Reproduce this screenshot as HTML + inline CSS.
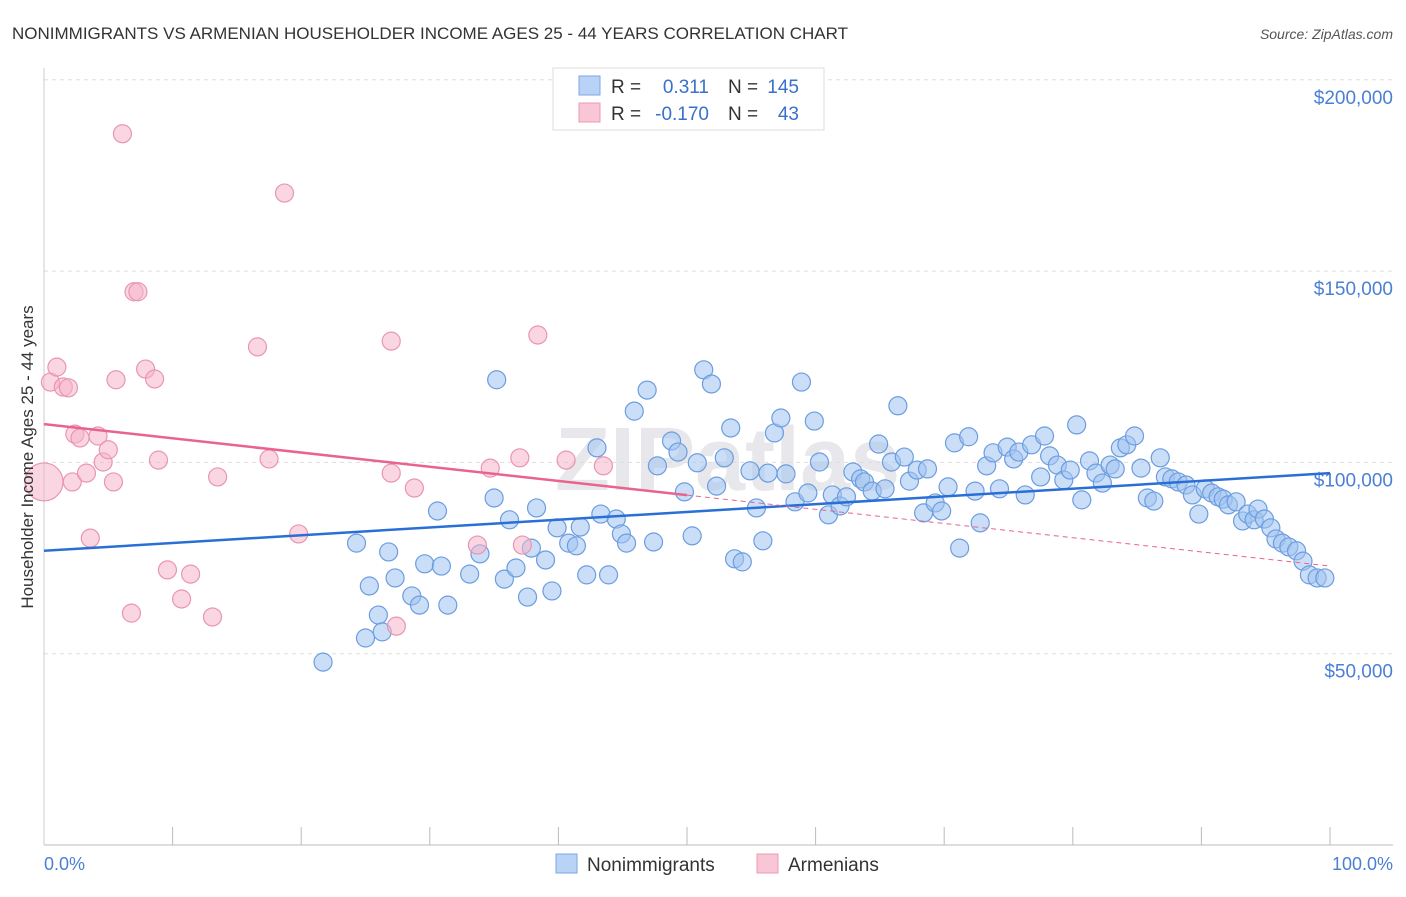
<!DOCTYPE html>
<html><head><meta charset="utf-8"><style>
body{margin:0;background:#fff;font-family:"Liberation Sans",sans-serif}
svg text{font-family:"Liberation Sans",sans-serif}
</style></head><body>
<svg id="chart" width="1406" height="892" xmlns="http://www.w3.org/2000/svg">
<text x="12" y="39" font-size="17" fill="#333">NONIMMIGRANTS VS ARMENIAN HOUSEHOLDER INCOME AGES 25 - 44 YEARS CORRELATION CHART</text>
<text x="1393" y="39" font-size="14" fill="#555" text-anchor="end" font-style="italic">Source: ZipAtlas.com</text>
<text x="555" y="490" font-size="90" fill="#e8e8ec" font-weight="bold">ZIPatlas</text>
<g id="grid"></g>
<g id="axes"></g>
<g id="pts"></g>
<g id="trend"></g>
<text transform="translate(33,457) rotate(-90)" font-size="17" fill="#333" text-anchor="middle">Householder Income Ages 25 - 44 years</text>
<text x="44" y="870" font-size="18" fill="#4a7fd4">0.0%</text>
<text x="1393" y="870" font-size="18" fill="#4a7fd4" text-anchor="end">100.0%</text>
<g>
<rect x="553" y="68" width="271" height="62" fill="#fff" stroke="#ddd"/>
<rect x="579" y="76" width="21" height="19" fill="#b8d3f5" stroke="#7aa7e4"/>
<rect x="579" y="103" width="21" height="19" fill="#f9c6d6" stroke="#ec9ab4"/>
<text x="611" y="93" font-size="19" fill="#333">R =</text>
<text x="709" y="93" font-size="19" fill="#3a70cc" text-anchor="end">0.311</text>
<text x="728" y="93" font-size="19" fill="#333">N =</text>
<text x="799" y="93" font-size="19" fill="#3a70cc" text-anchor="end">145</text>
<text x="611" y="120" font-size="19" fill="#333">R =</text>
<text x="709" y="120" font-size="19" fill="#3a70cc" text-anchor="end">-0.170</text>
<text x="728" y="120" font-size="19" fill="#333">N =</text>
<text x="799" y="120" font-size="19" fill="#3a70cc" text-anchor="end">43</text>
</g>
<g>
<rect x="556" y="854" width="21" height="19" fill="#b8d3f5" stroke="#7aa7e4"/>
<text x="587" y="871" font-size="19" fill="#333">Nonimmigrants</text>
<rect x="757" y="854" width="21" height="19" fill="#f9c6d6" stroke="#ec9ab4"/>
<text x="788" y="871" font-size="19" fill="#333">Armenians</text>
</g>
</svg>
<script>
const yTicks=[50000,100000,150000,200000];
const yTickLabels=["$50,000","$100,000","$150,000","$200,000"];
const blueX=[21.7,24.3,25.0,25.3,26.0,26.3,26.8,27.3,28.6,29.2,29.6,30.6,30.9,31.4,33.1,33.9,35.0,35.2,35.8,36.2,36.7,37.6,37.9,38.3,39.0,39.5,39.9,40.8,41.4,41.7,42.2,43.0,43.3,43.9,44.5,44.9,45.3,45.9,46.9,47.4,47.7,48.8,49.3,49.8,50.4,50.8,51.3,51.9,52.3,52.9,53.4,53.7,54.3,54.9,55.4,55.9,56.3,56.8,57.3,57.7,58.4,58.9,59.4,59.9,60.3,61.0,61.3,61.9,62.4,62.9,63.5,63.8,64.4,64.9,65.4,65.9,66.4,66.9,67.3,67.9,68.4,68.7,69.3,69.8,70.3,70.8,71.2,71.9,72.4,72.8,73.3,73.8,74.3,74.9,75.4,75.8,76.3,76.8,77.5,77.8,78.2,78.8,79.3,79.8,80.3,80.7,81.3,81.8,82.3,82.9,83.3,83.7,84.2,84.8,85.3,85.8,86.3,86.8,87.2,87.7,88.2,88.8,89.3,89.8,90.3,90.8,91.3,91.7,92.1,92.7,93.2,93.6,94.1,94.4,94.9,95.4,95.8,96.3,96.8,97.4,97.9,98.4,99.0,99.6];
const blueY=[47.8,78.9,54.1,67.7,60.1,55.7,76.6,69.8,65.1,62.7,73.5,87.3,72.9,62.7,70.8,76.1,90.7,121.6,69.5,85.0,72.4,64.8,77.6,88.1,74.5,66.4,82.9,78.9,78.2,83.1,70.6,103.8,86.5,70.6,85.2,81.3,78.9,113.4,118.9,79.2,99.1,105.6,102.7,92.3,80.8,99.9,124.2,120.5,93.8,101.2,109.0,74.8,74.0,97.8,88.1,79.5,97.2,107.7,111.6,97.0,89.7,121.0,92.0,110.8,100.1,86.3,91.5,88.6,91.0,97.5,95.7,94.9,92.5,104.8,93.1,100.1,114.8,101.4,95.1,98.0,86.8,98.3,89.4,87.3,93.6,105.1,77.6,106.7,92.5,84.2,99.1,102.5,93.1,104.0,100.9,102.7,91.5,104.6,96.2,106.9,101.7,99.3,95.4,98.0,109.8,90.2,100.4,97.2,94.6,99.3,98.3,103.8,104.6,106.9,98.5,90.7,89.9,101.2,96.2,95.7,94.9,94.1,91.5,86.5,93.1,92.0,91.0,90.4,88.9,89.7,84.7,86.5,85.0,87.8,85.2,82.9,80.0,78.9,77.9,76.9,74.2,70.6,69.8,69.8];
const pinkX=[0,0.5,1.0,1.5,1.9,2.2,2.4,2.8,3.3,3.6,4.2,4.6,5.0,5.4,5.6,6.1,6.8,7.0,7.3,7.9,8.6,8.9,9.6,10.7,11.4,13.1,13.5,16.6,17.5,18.7,19.8,27.0,27.0,27.4,28.8,33.7,34.7,37.0,37.2,38.4,40.6,43.5];
const pinkY=[94.9,121.0,124.9,119.7,119.5,94.9,107.4,106.4,97.2,80.2,106.9,100.1,103.3,94.9,121.6,185.9,60.6,144.6,144.6,124.4,121.8,100.6,71.9,64.3,70.8,59.6,96.2,130.2,100.9,170.4,81.3,131.7,97.2,57.2,93.3,78.4,98.5,101.2,78.4,133.3,100.6,99.1];
const blueTrend=[76.9,97.2];
const pinkTrend=[110.0,72.9];
const pinkSolidEnd=50;
const NS="http://www.w3.org/2000/svg";
const X=p=>44+p*12.86;
const Y=v=>845-v/50000*191.3;
function mk(tag,attrs,parent){const e=document.createElementNS(NS,tag);for(const k in attrs)e.setAttribute(k,attrs[k]);parent.appendChild(e);return e;}
const grid=document.getElementById('grid'),axes=document.getElementById('axes'),pts=document.getElementById('pts'),tr=document.getElementById('trend'),svg=document.getElementById('chart');
yTicks.forEach((t,i)=>{
 const l=mk('line',{x1:44,x2:1393,y1:Y(t),y2:Y(t),stroke:'#ddd','stroke-dasharray':'4,4'},grid);
 
 
 const tx=mk('text',{x:1393,y:Y(t)+24,'font-size':19,fill:'#4a7fd4','text-anchor':'end'},grid);
 tx.textContent=yTickLabels[i];
 
 
});
const ax=mk('line',{x1:44,x2:1393,y1:845,y2:845,stroke:'#bbb'},axes);


const ay=mk('line',{x1:44,x2:44,y1:68,y2:845,stroke:'#ccc'},axes);


for(let i=1;i<=10;i++){const t=mk('line',{x1:X(i*10),x2:X(i*10),y1:827,y2:845,stroke:'#bbb'},axes);
 
 }
blueX.forEach((x,i)=>{const c=mk('circle',{cx:X(x),cy:Y(blueY[i]*1000),r:9,fill:'rgba(160,195,240,0.55)',stroke:'#6b9de0','stroke-width':1.2},pts);
 
 });
pinkX.forEach((x,i)=>{const c=mk('circle',{cx:X(x),cy:Y(pinkY[i]*1000),r:i===0?19:9,fill:'rgba(245,180,202,0.55)',stroke:'#e995b1','stroke-width':1.2},pts);
 
 });
const bl=mk('line',{x1:X(0),y1:Y(blueTrend[0]*1000),x2:X(100),y2:Y(blueTrend[1]*1000),stroke:'#2a6fd6','stroke-width':2.5},tr);


const pm=pinkTrend[0]+(pinkTrend[1]-pinkTrend[0])*pinkSolidEnd/100;
const ps=mk('line',{x1:X(0),y1:Y(pinkTrend[0]*1000),x2:X(pinkSolidEnd),y2:Y(pm*1000),stroke:'#e8648e','stroke-width':2.5},tr);


const pd=mk('line',{x1:X(pinkSolidEnd),y1:Y(pm*1000),x2:X(100),y2:Y(pinkTrend[1]*1000),stroke:'#e8648e','stroke-width':1,'stroke-dasharray':'5,4'},tr);


</script>
</body></html>
